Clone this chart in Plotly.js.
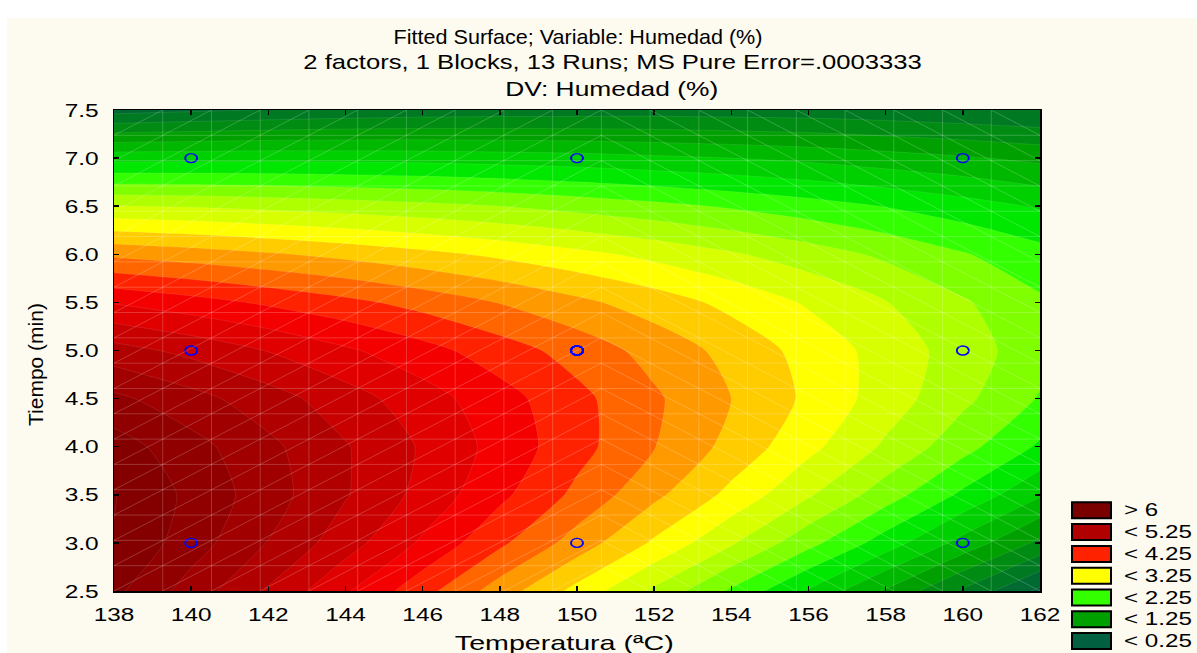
<!DOCTYPE html>
<html><head><meta charset="utf-8">
<script src="https://cdn.plot.ly/plotly-3.0.1.min.js"></script>
<style>
html,body{margin:0;padding:0;background:#ffffff;width:1197px;height:653px;overflow:hidden;}
#chart{position:absolute;left:7px;top:18px;width:1190px;height:635px;}
</style></head><body><div id="chart"></div>
<script>
// ---- data ----
const temperatura = [138,140,142,144,146,148,150,152,154,156,158,160,162];
const tiempo = [2.5,3.0,3.5,4.0,4.5,5.0,5.5,6.0,6.5,7.0,7.5];
// fitted Humedad (%) : one row per tiempo value, one column per temperatura value
const humedad = [
  [5.81,5.39,4.97,4.53,4.09,3.63,3.17,2.70,2.21,1.72,1.22,0.71,0.19],
  [5.99,5.62,5.24,4.86,4.46,4.05,3.64,3.21,2.78,2.33,1.88,1.41,0.94],
  [6.01,5.69,5.36,5.02,4.67,4.31,3.94,3.56,3.18,2.78,2.37,1.95,1.53],
  [5.87,5.59,5.31,5.02,4.72,4.41,4.09,3.76,3.42,3.07,2.71,2.34,1.96],
  [5.56,5.34,5.11,4.86,4.61,4.35,4.07,3.79,3.50,3.20,2.88,2.56,2.23],
  [5.10,4.93,4.74,4.54,4.34,4.12,3.90,3.66,3.42,3.16,2.90,2.63,2.34],
  [4.48,4.35,4.21,4.07,3.91,3.74,3.56,3.38,3.18,2.97,2.76,2.53,2.29],
  [3.70,3.62,3.53,3.43,3.32,3.20,3.07,2.93,2.78,2.62,2.45,2.27,2.09],
  [2.76,2.73,2.68,2.63,2.57,2.50,2.41,2.32,2.22,2.11,1.99,1.86,1.72],
  [1.66,1.67,1.68,1.67,1.66,1.63,1.60,1.55,1.50,1.44,1.36,1.28,1.19],
  [0.40,0.46,0.51,0.56,0.59,0.61,0.62,0.63,0.62,0.61,0.58,0.54,0.50]
];
// experimental runs (13 runs, centre point replicated)
const runTemp = [140,140,140,150,150,150,150,150,150,150,160,160,160];
const runTime = [3,5,7,3,5,5,5,5,5,7,3,5,7];
// contour levels and band colours (lowest band first)
const levelStart = 0.25, levelEnd = 6.0, levelStep = 0.25;
const bandColors = ['#006040','#006a32','#007a22','#008c12','#00a000','#00b800','#00d000','#00e800',
  '#33ff00','#80ff00','#b0ff00','#d8ff00','#ffff00','#ffcc00','#ff9900','#ff6600','#ff2200',
  '#f50000','#e00000','#c80000','#b00000','#a00000','#900000','#840000','#780000'];
const legendLabels = ['> 6','< 5.25','< 4.25','< 3.25','< 2.25','< 1.25','< 0.25'];
const legendColors = ['#7a0000','#b00000','#ff2200','#ffff00','#33ff00','#00a000','#006040'];
const xTicks = [138,140,142,144,146,148,150,152,154,156,158,160,162];
const yTicks = [2.5,3.0,3.5,4.0,4.5,5.0,5.5,6.0,6.5,7.0,7.5];
const titleLines = ['Fitted Surface; Variable: Humedad (%)',
  '2 factors, 1 Blocks, 13 Runs; MS Pure Error=.0003333','DV: Humedad (%)'];
const xTitle = 'Temperatura (ªC)', yTitle = 'Tiempo (min)';

// ---- layout helpers (page pixel -> paper) ----
const PX0=114, PX1=1040, PY0=110, PY1=591;
const px = X => (X-PX0)/(PX1-PX0);
const py = Y => (PY1-Y)/(PY1-PY0);
const FONT = 'Liberation Sans, Arial, sans-serif';

const colorscale = bandColors.map((c,k)=>[k/(bandColors.length-1), c]);

const contour = {
  type:'contour', x:temperatura, y:tiempo, z:humedad,
  colorscale:colorscale, showscale:false,
  contours:{start:levelStart, end:levelEnd, size:levelStep, coloring:'fill', showlines:true},
  line:{color:'rgba(255,255,255,0.16)', width:0.6, smoothing:0.6},
  hoverinfo:'skip'
};
const runs = {
  type:'scatter', mode:'markers', x:runTemp, y:runTime,
  marker:{symbol:'circle-open', size:10, color:'#0000ff', line:{width:1.6, color:'#0000ff'}},
  hoverinfo:'skip'
};

// surface mesh (decorative grid of the fitted surface)
const xr=[temperatura[0], temperatura[temperatura.length-1]], yr=[tiempo[0], tiempo[tiempo.length-1]];
const nMesh=19, dx=(xr[1]-xr[0])/nMesh, dy=(yr[1]-yr[0])/nMesh;
let mesh='';
for(let i=1;i<nMesh;i++){const x=xr[0]+i*dx; mesh+=`M${x},${yr[0]}L${x},${yr[1]}`;}
for(let j=1;j<nMesh;j++){const y=yr[0]+j*dy; mesh+=`M${xr[0]},${y}L${xr[1]},${y}`;}
for(let i=0;i<nMesh;i++) for(let j=0;j<nMesh;j++){
  const xa=xr[0]+i*dx, xb=xa+dx, ya=yr[0]+j*dy, yb=ya+dy;
  mesh += (i<10) ? `M${xa},${ya}L${xb},${yb}` : `M${xa},${yb}L${xb},${ya}`;
}
const shapes=[{type:'path', xref:'x', yref:'y', path:mesh, layer:'above',
  line:{color:'rgba(255,255,255,0.26)', width:0.8}}];
const annotations=[];
// target text widths (px) measured on the (horizontally stretched) reference
const targetWidth = {};
const titleCX=[577.5,612.5,611.5], titleCY=[36.5,62.5,88.5], titleW=[369,619,213];
titleLines.forEach((t,i)=>{
  targetWidth[t]=titleW[i];
  annotations.push({text:t, xref:'paper', yref:'paper', x:px(titleCX[i]), y:py(titleCY[i]),
    xanchor:'center', yanchor:'middle', showarrow:false, font:{family:FONT, size:20, color:'#000'}});
});
targetWidth[xTitle]=219;
annotations.push({text:xTitle, xref:'paper', yref:'paper', x:px(564.5), y:py(642), xanchor:'center', yanchor:'middle',
  showarrow:false, font:{family:FONT, size:21, color:'#000'}});
annotations.push({text:yTitle, xref:'paper', yref:'paper', x:px(35), y:py(365), xanchor:'center', yanchor:'middle',
  textangle:-90, showarrow:false, font:{family:FONT, size:21, color:'#000'}});
legendLabels.forEach((lab,k)=>{
  const top=502.3+k*21.8;
  targetWidth[lab] = lab.length>3 ? 68 : 34;
  shapes.push({type:'rect', xref:'paper', yref:'paper', x0:px(1072), x1:px(1111), y0:py(top+16), y1:py(top),
    fillcolor:legendColors[k], line:{color:'#000', width:2}});
  annotations.push({text:lab, xref:'paper', yref:'paper', x:px(1122), y:py(top+8), xanchor:'left', yanchor:'middle',
    align:'left', showarrow:false, font:{family:FONT, size:17.5, color:'#000'}});
});

const axisCommon = {showgrid:false, zeroline:false, showline:true, linecolor:'#000', linewidth:1.5,
  mirror:'ticks', ticks:'inside', ticklen:5, tickwidth:1.5, tickcolor:'#000',
  tickfont:{family:FONT, size:19, color:'#000'}};
const layout = {
  width:1190, height:635, margin:{l:107, r:157, t:92, b:62},
  paper_bgcolor:'#fdfaf0', plot_bgcolor:'#fdfaf0', showlegend:false,
  xaxis:Object.assign({}, axisCommon, {range:xr, tickvals:xTicks, ticktext:xTicks.map(String), ticklabelstandoff:6}),
  yaxis:Object.assign({}, axisCommon, {range:yr, tickvals:yTicks, ticktext:yTicks.map(v=>v.toFixed(1)), ticklabelstandoff:10}),
  shapes:shapes, annotations:annotations
};

const gd=document.getElementById('chart');
// true if the element or an ancestor is rotated by a non-zero angle
function isRotated(el){
  let e=el;
  while(e && e.nodeType===1 && e!==gd){
    const tr=e.getAttribute('transform');
    if(tr){
      const re=/rotate\(\s*(-?[\d.eE+-]+)/g; let m;
      while((m=re.exec(tr))){ if(Math.abs(parseFloat(m[1]))>0.01) return true; }
    }
    e=e.parentNode;
  }
  return false;
}
const cnv=document.createElement('canvas'), ctx=cnv.getContext('2d');
function measure(txt, size){ ctx.font = size+'px "Liberation Sans", Arial, sans-serif'; return ctx.measureText(txt).width; }
// the reference picture is horizontally stretched: widen the glyphs (and run markers) accordingly
function stretchAll(){
  const list=gd.querySelectorAll('text');
  for(let k=0;k<list.length;k++){
    const t=list[k];
    try{
      const cur=t.getAttribute('transform')||'';
      if(t.getAttribute('data-st')===cur && cur!=='') continue;
      if(isRotated(t)) continue;
      const txt=(t.textContent||'').replace(/[\u00A0\u2009\u202F]/g,' ').replace(/\s+/g,' ').trim();
      if(!txt) continue;
      let target=null;
      if(t.closest && t.closest('.xtick')) target=40.7;
      else if(t.closest && t.closest('.ytick')) target=34;
      else if(targetWidth[txt]) target=targetWidth[txt];
      if(!target) continue;
      let size=parseFloat(t.style.fontSize);
      if(!(size>0)) size=parseFloat(window.getComputedStyle(t).fontSize);
      if(!(size>0)) size=19;
      const w=measure(txt,size);
      if(!(w>0)) continue;
      const s=target/w;
      const x=parseFloat(t.getAttribute('x'))||0;
      const nt=(cur?cur+' ':'')+'translate('+x+',0) scale('+s.toFixed(4)+',1) translate('+(-x)+',0)';
      t.setAttribute('transform', nt);
      t.setAttribute('data-st', nt);
    }catch(e){}
  }
  const pts=gd.querySelectorAll('.scatterlayer path.point');
  for(let k=0;k<pts.length;k++){
    try{
      const p=pts[k], cur=p.getAttribute('transform')||'';
      if(p.getAttribute('data-st')===cur && cur!=='') continue;
      const nt=(cur?cur+' ':'')+'scale(1.2,0.9)';
      p.setAttribute('transform', nt); p.setAttribute('data-st', nt);
    }catch(e){}
  }
}
try{
  const p=Plotly.newPlot(gd,[contour, runs],layout,{staticPlot:true, displayModeBar:false});
  stretchAll();
  if(p && p.then) p.then(stretchAll, stretchAll);
}catch(e){ stretchAll(); }
setTimeout(stretchAll,30); setTimeout(stretchAll,200); setTimeout(stretchAll,800);
</script></body></html>
